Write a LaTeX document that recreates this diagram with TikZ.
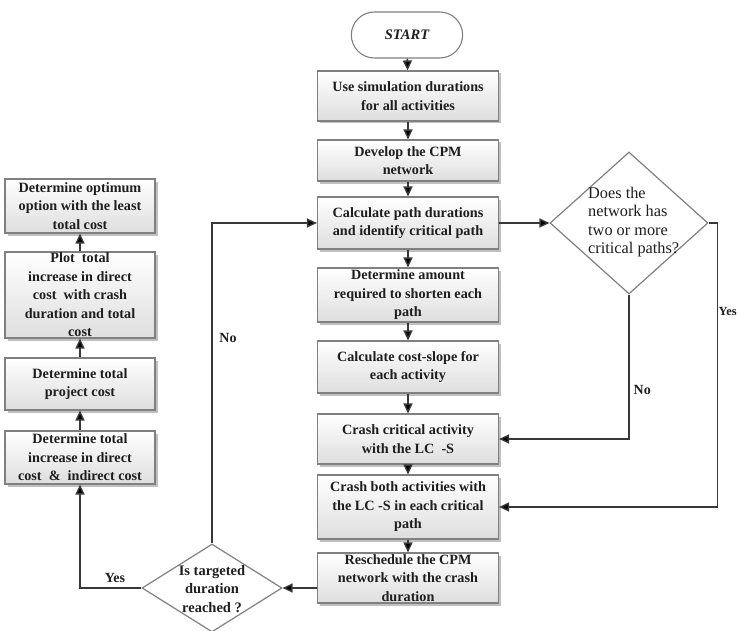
\documentclass[tikz,border=0pt]{standalone}
\usepackage{fontspec}
\setmainfont{Liberation Serif}
\usetikzlibrary{shapes.geometric,shapes.misc,shadows,arrows.meta}

\definecolor{boxline}{HTML}{808080}
\definecolor{wire}{HTML}{383838}
\definecolor{ink}{HTML}{1E1E1E}

\tikzset{
  proc/.style={draw=boxline, line width=1.1pt, rectangle,
    top color=white, bottom color=black!13,
    drop shadow={shadow xshift=2.5pt, shadow yshift=-2.5pt, fill=black!45, opacity=0.55},
    align=center, inner sep=0pt, text=ink,
    font=\fontsize{14.2}{18.5}\selectfont\bfseries},
  term/.style={draw=boxline, line width=1.1pt, rounded rectangle,
    fill=white, text=ink, font=\fontsize{14.5}{18}\selectfont\bfseries\itshape},
  decide/.style={draw=boxline, line width=1.2pt, diamond, fill=white,
    inner sep=0pt},
  dtext/.style={text=ink, inner sep=0pt},
  arr/.style={draw=wire, line width=1.4pt,
    -{Triangle[length=10pt,width=9pt,fill=black]}},
  lbl/.style={text=ink, font=\fontsize{14}{16}\selectfont\bfseries, inner sep=1pt},
}

\begin{document}
\begin{tikzpicture}[x=1pt, y=-1pt]
\useasboundingbox (0,0) rectangle (738,631);
\clip (0,0) rectangle (738,631);

% main column
\node[term, minimum width=118pt, minimum height=46pt] (start) at (407,35) {START};
\node[proc, minimum width=181pt, minimum height=50pt] (b1) at (408,96)
  {Use simulation durations\\ for all activities};
\node[proc, minimum width=181pt, minimum height=41pt] (b2) at (408,160.5)
  {Develop the CPM\\ network};
\node[proc, minimum width=181pt, minimum height=52pt] (b3) at (408,223)
  {Calculate path durations\\ and identify critical path};
\node[proc, minimum width=181pt, minimum height=54pt] (b4) at (408,295)
  {Determine amount\\ required to shorten each\\ path};
\node[proc, minimum width=181pt, minimum height=52pt] (b5) at (408,367)
  {Calculate cost-slope for\\ each activity};
\node[proc, minimum width=181pt, minimum height=50pt] (b6) at (408,439)
  {Crash critical activity\\ with the LC\ \ -S};
\node[proc, minimum width=181pt, minimum height=64pt] (b7) at (408,507)
  {Crash both activities with\\ the LC -S in each critical\\ path};
\node[proc, minimum width=181pt, minimum height=50pt] (b8) at (408,578)
  {Reschedule the CPM\\ network with the crash\\ duration};

% left column
\node[proc, minimum width=150pt, minimum height=54pt] (l1) at (80,206)
  {Determine optimum\\ option with the least\\ total cost};
\node[proc, minimum width=150pt, minimum height=86pt] (l2) at (80,295)
  {Plot\ \ total\\ increase in direct\\ cost\ \ with crash\\ duration and total\\ cost};
\node[proc, minimum width=150pt, minimum height=52pt] (l3) at (80,384)
  {Determine total\\ project cost};
\node[proc, minimum width=150pt, minimum height=53pt] (l4) at (80,457.5)
  {Determine total\\ increase in direct\\ cost\ \ \&\ \ indirect cost};

% decisions
\node[decide, minimum width=158pt, minimum height=142pt] (d1) at (629,223) {};
\node[dtext, anchor=west, align=left, font=\fontsize{16.3}{18.5}\selectfont]
  (d1t) at (588,222) {Does the\\ network has\\ two or more\\ critical paths?};
\node[decide, minimum width=140pt, minimum height=88pt] (d2) at (212,588) {};
\node[dtext, align=center, font=\fontsize{14.5}{18.5}\selectfont\bfseries]
  (d2t) at (212,589) {Is targeted\\ duration\\ reached\ ?};

% main flow
\draw[arr] (start) -- (b1);
\draw[arr] (b1) -- (b2);
\draw[arr] (b2) -- (b3);
\draw[arr] (b3) -- (b4);
\draw[arr] (b4) -- (b5);
\draw[arr] (b5) -- (b6);
\draw[arr] (b6) -- (b7);
\draw[arr] (b7) -- (b8);

% decision branches
\draw[arr] (b3) -- (d1);
\draw[arr] (d1.south) |- node[lbl, pos=0.33, anchor=west, xshift=3pt] (nol) {No} (b6.east);
\draw[arr] (d1.east) -- ++(9,0) |- (b7.east);
\node[lbl, anchor=west, font=\fontsize{12.5}{14}\selectfont\bfseries, inner sep=0pt]
  (yesr) at (718.5,311) {Yes};
\draw[arr] (b8.west |- d2.east) -- (d2.east);
\draw[arr] (d2.north) |- (b3.west);
\node[lbl] (nod) at (228,338) {No};
\draw[arr] (d2.west) -| (l4.south);
\node[lbl] (yesl) at (115,578) {Yes};

% left column upward flow
\draw[arr] (l4) -- (l3);
\draw[arr] (l3) -- (l2);
\draw[arr] (l2) -- (l1);
\end{tikzpicture}
\end{document}
